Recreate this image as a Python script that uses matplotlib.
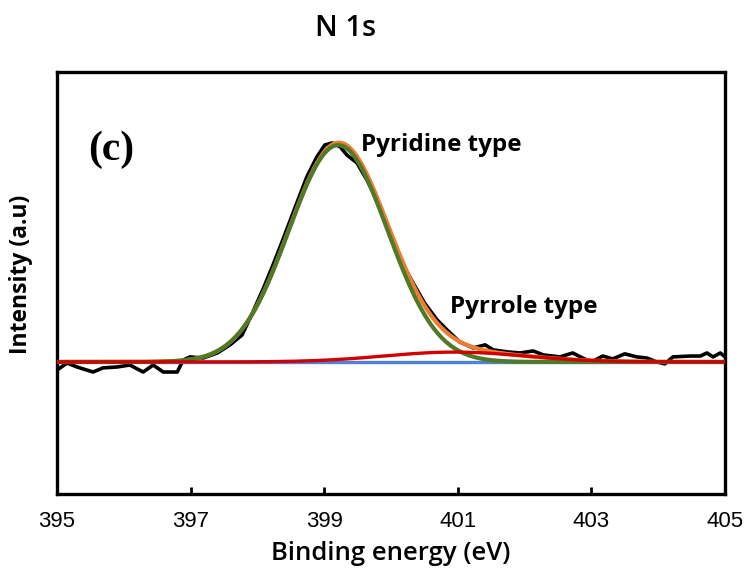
import numpy as np
import matplotlib
matplotlib.use("Agg")
import matplotlib.pyplot as plt

# Measured N 1s spectrum (binding energy in eV, intensity in a.u.)
energy = [395.00, 395.15, 395.30, 395.54, 395.69, 395.90, 396.09, 396.29, 396.44,
          396.59, 396.80, 396.89, 396.99, 397.19, 397.40, 397.59, 397.77, 397.92,
          398.08, 398.23, 398.38, 398.59, 398.74, 398.89, 399.01, 399.12, 399.24,
          399.34, 399.49, 399.64, 399.84, 399.99, 400.15, 400.33, 400.50, 400.69,
          400.84, 401.03, 401.23, 401.41, 401.53, 401.74, 401.93, 402.13, 402.28,
          402.53, 402.72, 402.87, 403.00, 403.17, 403.32, 403.50, 403.68, 403.83,
          403.98, 404.10, 404.22, 404.48, 404.63, 404.73, 404.82, 404.93, 405.00]
intensity = [-3.7, -0.5, -2.3, -4.6, -2.7, -2.3, -1.4, -4.6, -1.4,
             -4.6, -4.6, 0.9, 2.3, 1.8, 4.1, 7.8, 12.3, 22.0,
             32.9, 44.0, 55.7, 72.6, 84.5, 93.6, 99.1, 100.0, 98.2,
             94.5, 90.9, 83.1, 70.8, 57.1, 46.0, 36.1, 27.0, 19.2,
             14.6, 9.1, 6.4, 7.8, 5.5, 4.6, 4.1, 5.0, 3.2,
             2.3, 4.1, 1.8, 0.0, 2.7, 1.4, 3.7, 2.3, 1.8,
             0.0, -0.9, 2.3, 2.7, 2.7, 4.1, 2.3, 4.1, 2.3]

# Fitted Gaussian components: centre (eV), height (a.u.), sigma (eV)
components = ["Pyridine type", "Pyrrole type"]
centres = [399.21, 400.95]
heights = [99.0, 4.5]
sigmas = [0.74, 1.05]
background_level = 0.0

tick_values = [395, 397, 399, 401, 403, 405]


def gaussian(x, c, h, s):
    return h * np.exp(-((x - c) ** 2) / (2 * s ** 2))


x_fit = np.linspace(395, 405, 801)
background = np.full_like(x_fit, background_level)
pyridine = background + gaussian(x_fit, centres[0], heights[0], sigmas[0])
pyrrole = background + gaussian(x_fit, centres[1], heights[1], sigmas[1])
envelope = background + gaussian(x_fit, centres[0], heights[0], sigmas[0]) \
    + gaussian(x_fit, centres[1], heights[1], sigmas[1])

fig = plt.figure(figsize=(7.48, 5.78), dpi=100)
ax = fig.add_axes([57 / 748, 1 - 494 / 578, (725 - 57) / 748, (494 - 72) / 578])

ax.plot(energy, intensity, color="black", lw=2.6, solid_joinstyle="round", zorder=2)
ax.plot(x_fit, background, color="#4F81D6", lw=2.4, zorder=3)
ax.plot(x_fit, envelope, color="#ED7D31", lw=3.0, zorder=4)
ax.plot(x_fit, pyridine, color="#4F7A28", lw=3.0, zorder=5)
ax.plot(x_fit, pyrrole, color="#D00000", lw=2.4, zorder=6)

ax.set_xlim(395, 405)
ax.set_ylim(-60.3, 132.4)
ax.set_xticks(tick_values)
ax.set_xticklabels([str(t) for t in tick_values],
                   fontfamily="Liberation Sans", fontsize=16)
ax.set_yticks([])
ax.tick_params(axis="x", direction="in", length=5, width=2, pad=12)
for sp in ax.spines.values():
    sp.set_linewidth(2.4)

ax.set_xlabel("Binding energy (eV)", fontfamily="Open Sans", fontweight="semibold",
              fontsize=18.5, labelpad=7)
ax.set_ylabel("Intensity (a.u)", fontfamily="Open Sans", fontweight="bold",
              fontsize=16.5)
ax.yaxis.set_label_coords(-0.036, 0.52)

fig.text(346 / 748, 1 - 28 / 578, "N 1s", ha="center", va="center",
         fontfamily="Open Sans", fontweight="semibold", fontsize=21)

fig.text(88 / 748, 1 - 150 / 578, "(c)", ha="left", va="center",
         fontfamily="Liberation Serif", fontweight="bold", fontsize=30)
fig.text(361 / 748, 1 - 145 / 578, components[0], ha="left", va="center",
         fontfamily="Open Sans", fontweight="bold", fontsize=17.5)
fig.text(450 / 748, 1 - 307 / 578, components[1], ha="left", va="center",
         fontfamily="Open Sans", fontweight="bold", fontsize=17.5)

fig.savefig("out.png", dpi=100)
